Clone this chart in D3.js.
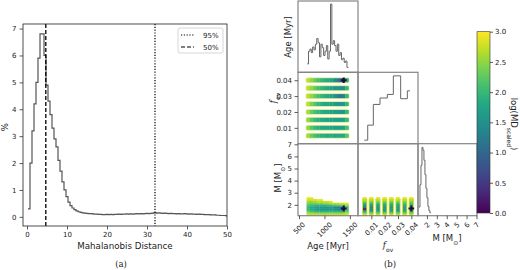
<!DOCTYPE html>
<html>
<head>
<meta charset="utf-8">
<style>
    body { margin: 0; background: #fff; }
    text { font-family: "DejaVu Sans", sans-serif; fill: #222; }
    .axis path { display: none; }
    .axis line { stroke: #333; stroke-width: 0.8; }
    .axis text { font-size: 7px; fill: #222; }
</style>
</head>
<body>
<svg id="container" width="520" height="270"></svg>
<script src="https://cdn.jsdelivr.net/npm/d3@7"></script>
<script>
// ---------------- data, panel (a) ----------------
let mdBinStart = 0.25
let mdBinWidth = 0.5
let mdPercent = [
    0.3, 2.0, 3.2, 4.2, 5.0, 5.9, 6.8, 6.8, 6.0, 4.9,
    4.3, 3.8, 3.3, 2.9, 2.6, 2.1, 1.7, 1.3, 1.0, 0.75,
    0.55, 0.42, 0.33, 0.27, 0.22, 0.19, 0.17, 0.15, 0.14, 0.13,
    0.12, 0.12, 0.11, 0.1, 0.1, 0.09, 0.09, 0.08, 0.08, 0.09,
    0.08, 0.09, 0.08, 0.09, 0.09, 0.1, 0.09, 0.1, 0.1, 0.11,
    0.1, 0.11, 0.1, 0.11, 0.12, 0.11, 0.12, 0.11, 0.12, 0.13,
    0.12, 0.13, 0.14, 0.16, 0.14, 0.15, 0.14, 0.13, 0.14, 0.13,
    0.12, 0.13, 0.12, 0.12, 0.11, 0.12, 0.11, 0.11, 0.12, 0.11,
    0.1, 0.11, 0.1, 0.1, 0.09, 0.1, 0.09, 0.09, 0.08, 0.08,
    0.08, 0.07, 0.07, 0.07, 0.06, 0.06, 0.05, 0.05, 0.05, 0.04
]
let md50 = 4.7
let md95 = 32
let mdTicks = [0, 10, 20, 30, 40, 50]
let pctTicks = [0, 1, 2, 3, 4, 5, 6, 7]

// ---------------- data, panel (b) ----------------
let ages = [680, 745, 810, 870, 935, 1000, 1060, 1125, 1190, 1250, 1315, 1375, 1440]
let ageStep = 63
let fovs = [0.04, 0.035, 0.03, 0.025, 0.02, 0.015, 0.01, 0.005]
let masses = [2.55, 2.4, 2.25, 2.1, 1.95, 1.8, 1.65, 1.5, 1.35, 1.2]
let massStep = 0.15

// log(MD_scaled), rows = fovs, columns = ages
let mdAgeFov = [
    [2.7, 2.5, 2.3, 2.1, 2.0, 1.9, 1.8, 1.7, 1.5, 1.3, 1.0, 0.3, 1.9],
    [2.7, 2.5, 2.3, 2.1, 2.0, 1.9, 1.8, 1.7, 1.6, 1.6, 1.5, 1.5, 2.0],
    [2.7, 2.5, 2.3, 2.1, 2.0, 1.9, 1.8, 1.7, 1.6, 1.4, 1.2, 1.3, 2.0],
    [2.7, 2.4, 2.2, 2.0, 1.9, 1.8, 1.8, 1.7, 1.7, 1.6, 1.6, 1.6, 2.0],
    [2.6, 2.3, 2.1, 2.0, 1.9, 1.8, 1.8, 1.7, 1.7, 1.7, 1.6, 1.6, 2.0],
    [2.5, 2.2, 2.0, 1.9, 1.8, 1.8, 1.7, 1.7, 1.7, 1.7, 1.7, 1.7, 2.0],
    [2.5, 2.2, 2.0, 1.9, 1.8, 1.8, 1.8, 1.7, 1.7, 1.7, 1.7, 1.7, 2.1],
    [2.6, 2.3, 2.1, 2.0, 1.9, 1.9, 1.8, 1.8, 1.8, 1.8, 1.8, 1.8, 2.2]
]
// rows = masses, columns = ages (null = no model)
let mdAgeMass = [
    [2.9, 2.9, null, null, null, null, null, null, null, null, null, null, null],
    [2.8, 2.8, 2.8, 2.9, 2.9, null, null, null, null, null, null, null, null],
    [2.6, 2.5, 2.6, 2.7, 2.7, 2.8, 2.8, 2.9, null, null, null, null, null],
    [2.4, 2.3, 2.3, 2.4, 2.4, 2.5, 2.5, 2.6, 2.7, 2.7, 2.8, 2.8, 2.9],
    [2.1, 2.0, 1.9, 1.9, 1.9, 1.9, 2.0, 2.0, 2.1, 2.2, 2.3, 2.3, 2.5],
    [2.0, 1.8, 1.7, 1.6, 1.6, 1.6, 1.6, 1.6, 1.5, 1.4, 1.3, 1.1, 2.0],
    [2.0, 1.8, 1.7, 1.6, 1.6, 1.6, 1.6, 1.5, 1.5, 1.4, 1.2, 0.3, 2.0],
    [2.2, 2.0, 1.9, 1.8, 1.8, 1.8, 1.8, 1.8, 1.8, 1.8, 1.8, 1.6, 2.2],
    [2.5, 2.4, 2.3, 2.3, 2.3, 2.3, 2.3, 2.3, 2.3, 2.3, 2.3, 2.3, 2.5],
    [2.8, 2.7, 2.7, 2.7, 2.7, 2.7, 2.7, 2.7, 2.7, 2.7, 2.7, 2.7, 2.8]
]
// rows = masses, columns = fovs (same order as fovs)
let mdFovMass = [
    [2.9, 2.9, 2.9, 2.9, 2.9, 2.9, 2.9, 2.9],
    [2.7, 2.7, 2.7, 2.7, 2.7, 2.7, 2.7, 2.7],
    [2.4, 2.4, 2.4, 2.4, 2.4, 2.4, 2.4, 2.4],
    [1.9, 2.0, 2.0, 2.0, 2.0, 2.0, 2.1, 2.1],
    [1.5, 1.6, 1.6, 1.7, 1.7, 1.7, 1.8, 1.8],
    [1.2, 1.4, 1.5, 1.5, 1.6, 1.6, 1.7, 1.7],
    [0.3, 1.4, 1.5, 1.5, 1.6, 1.6, 1.7, 1.7],
    [1.5, 1.6, 1.7, 1.7, 1.7, 1.7, 1.8, 1.8],
    [2.2, 2.2, 2.2, 2.2, 2.2, 2.2, 2.2, 2.2],
    [2.7, 2.7, 2.7, 2.7, 2.7, 2.7, 2.7, 2.7]
]
let best = { age: 1380, fov: 0.04, mass: 1.7 }

// 1D marginals (relative heights)
let ageHistStart = 660
let ageHistWidth = 27
let ageHist = [0.12, 0.30, 0.33, 0.28, 0.36, 0.32, 0.40, 0.48, 0.42, 0.22,
               0.40, 0.35, 0.24, 0.30, 0.38, 0.19, 0.30, 0.97, 0.40, 0.45,
               0.38, 0.30, 0.40, 0.24, 0.28, 0.18, 0.20, 0.14, 0.16, 0.07]
let fovHistEdges = [0.0047, 0.0073, 0.0115, 0.0165, 0.022, 0.0265, 0.032, 0.037, 0.039]
let fovHist = [0.05, 0.26, 0.55, 0.64, 0.69, 0.95, 0.63, 0.74]
let massHistStart = 1.2
let massHistWidth = 0.1
let massHist = [0.12, 0.43, 0.70, 0.95, 0.91, 0.77, 0.57, 0.38, 0.25, 0.13, 0.07, 0.04]

let ageTicks = [500, 1000, 1500]
let fovTicks = [0.01, 0.02, 0.03, 0.04]
let massTicks = [2, 3, 4, 5, 6, 7]
let cbarTicks = [0, 0.5, 1, 1.5, 2, 2.5, 3]

let svg = d3.select("#container")

// ================= panel (a) =================
let xA = d3.scaleLinear().domain([-1, 50]).range([23, 227])
let yA = d3.scaleLinear().domain([-0.34, 7.17]).range([226, 24])

svg.append("clipPath").attr("id", "clipA")
    .append("rect").attr("x", 23).attr("y", 24).attr("width", 204).attr("height", 202)

let histPts = mdPercent.map((v, i) => [mdBinStart + i * mdBinWidth, v])
histPts.push([mdBinStart + mdPercent.length * mdBinWidth, mdPercent[mdPercent.length - 1]])
let stepLine = d3.line().x(d => xA(d[0])).y(d => yA(d[1])).curve(d3.curveStepAfter)

svg.append("path")
    .attr("d", stepLine(histPts))
    .attr("fill", "none")
    .attr("stroke", "#555")
    .attr("stroke-width", 1.2)
    .attr("clip-path", "url(#clipA)")

// percentile lines
svg.append("line")
    .attr("x1", xA(md95)).attr("x2", xA(md95)).attr("y1", 24).attr("y2", 226)
    .attr("stroke", "#000").attr("stroke-width", 1.2).attr("stroke-dasharray", "1.2,1.6")
svg.append("line")
    .attr("x1", xA(md50)).attr("x2", xA(md50)).attr("y1", 24).attr("y2", 226)
    .attr("stroke", "#000").attr("stroke-width", 1.3).attr("stroke-dasharray", "4,2")

svg.append("rect")
    .attr("x", 23).attr("y", 24).attr("width", 204).attr("height", 202)
    .attr("fill", "none").attr("stroke", "#222").attr("stroke-width", 0.8)

svg.append("g").attr("class", "axis")
    .attr("transform", "translate(0,226)")
    .call(d3.axisBottom(xA).tickValues(mdTicks).tickSize(3.5).tickPadding(2.5))
svg.append("g").attr("class", "axis")
    .attr("transform", "translate(23,0)")
    .call(d3.axisLeft(yA).tickValues(pctTicks).tickSize(3.5).tickPadding(3))

svg.append("text").attr("x", 125).attr("y", 249).attr("text-anchor", "middle")
    .attr("font-size", 8.7).text("Mahalanobis Distance")
svg.append("text").attr("transform", "translate(8,127) rotate(-90)").attr("text-anchor", "middle")
    .attr("font-size", 8.7).text("%")
svg.append("text").attr("x", 121).attr("y", 267).attr("text-anchor", "middle")
    .attr("font-size", 8.5).style("font-family", "'DejaVu Serif', serif").text("(a)")

// legend
let leg = svg.append("g").attr("transform", "translate(178,28)")
leg.append("rect").attr("width", 45).attr("height", 25).attr("rx", 2)
    .attr("fill", "#fff").attr("fill-opacity", 0.8).attr("stroke", "#ccc").attr("stroke-width", 0.8)
let legItems = [{ label: "95%", dash: "1.2,1.6" }, { label: "50%", dash: "4,2" }]
legItems.forEach((d, i) => {
    let y = 7 + i * 12
    leg.append("line").attr("x1", 3).attr("x2", 16).attr("y1", y).attr("y2", y)
        .attr("stroke", "#000").attr("stroke-width", 1.2).attr("stroke-dasharray", d.dash)
    leg.append("text").attr("x", 25).attr("y", y + 2.5).attr("font-size", 7).text(d.label)
})

// ================= panel (b) =================
let colX = [298, 358, 418, 477]
let rowY = [1, 72.3, 143.7, 215.7]

let ageX = d3.scaleLinear().domain([480, 1660]).range([colX[0], colX[1]])
let fovX = d3.scaleLinear().domain([0, 0.045]).range([colX[1], colX[2]])
let fovY = d3.scaleLinear().domain([0, 0.045]).range([rowY[2], rowY[1]])
let massX = d3.scaleLinear().domain([1.1, 7.05]).range([colX[2], colX[3]])
let massY = d3.scaleLinear().domain([1.1, 7.05]).range([rowY[3], rowY[2]])
let color = d3.scaleSequential(d3.interpolateViridis).domain([0, 3])

let corner = svg.append("g")

// Age - f_ov scatter strips
let gAF = corner.append("g")
fovs.forEach((f, i) => {
    // light outer halo like the outer (high MD) models
    gAF.append("rect")
        .attr("x", ageX(ages[0] - ageStep / 2) - 1).attr("y", fovY(f) - 2.8)
        .attr("width", ageX(ages[ages.length - 1] + ageStep / 2) - ageX(ages[0] - ageStep / 2) + 2)
        .attr("height", 5.6).attr("rx", 2.5)
        .attr("fill", color(2.7)).attr("opacity", 0.6)
    ages.forEach((a, j) => {
        gAF.append("rect")
            .attr("x", ageX(a - ageStep / 2)).attr("y", fovY(f) - 2)
            .attr("width", ageX(a + ageStep / 2) - ageX(a - ageStep / 2) + 0.3)
            .attr("height", 4)
            .attr("fill", color(mdAgeFov[i][j]))
    })
})

// Age - M scatter
let gAM = corner.append("g")
masses.forEach((m, i) => {
    ages.forEach((a, j) => {
        let v = mdAgeMass[i][j]
        if (v == null) return
        gAM.append("rect")
            .attr("x", ageX(a - ageStep / 2)).attr("y", massY(m + massStep / 2))
            .attr("width", ageX(a + ageStep / 2) - ageX(a - ageStep / 2) + 0.3)
            .attr("height", massY(m - massStep / 2) - massY(m + massStep / 2) + 0.3)
            .attr("fill", color(v))
    })
})

// f_ov - M blobs
let gFM = corner.append("g")
fovs.forEach((f, j) => {
    let col = masses.map((m, i) => ({ m: m, v: mdFovMass[i][fovs.length - 1 - j] }))
    gFM.append("rect")
        .attr("x", fovX(f) - 2.6).attr("y", massY(masses[0] + massStep / 2))
        .attr("width", 5.2).attr("height", massY(masses[masses.length - 1] - massStep / 2) - massY(masses[0] + massStep / 2))
        .attr("rx", 2).attr("fill", color(2.8))
    col.forEach(d => {
        gFM.append("rect")
            .attr("x", fovX(f) - 1.7).attr("y", massY(d.m + massStep / 2))
            .attr("width", 3.4)
            .attr("height", massY(d.m - massStep / 2) - massY(d.m + massStep / 2) + 0.3)
            .attr("fill", color(d.v))
    })
})

// best fit markers
let cross = d3.symbol(d3.symbolCross).size(18)
let bestPts = [[ageX(best.age), fovY(best.fov)], [ageX(best.age), massY(best.mass)], [fovX(best.fov), massY(best.mass)]]
bestPts.forEach(p => {
    corner.append("path").attr("d", cross()).attr("transform", `translate(${p[0]},${p[1]})`)
        .attr("fill", "#1e0b3d")
})

// 1D histograms
function stepPath(points, xs, ys) {
    return d3.line().x(d => xs(d[0])).y(d => ys(d[1])).curve(d3.curveStepAfter)(points)
}
let ageHY = d3.scaleLinear().domain([0, 1]).range([rowY[1], rowY[0] + 1])
let agePts = ageHist.map((v, i) => [ageHistStart + i * ageHistWidth, v])
agePts.push([ageHistStart + ageHist.length * ageHistWidth, ageHist[ageHist.length - 1]])
corner.append("path").attr("d", stepPath(agePts, ageX, ageHY))
    .attr("fill", "none").attr("stroke", "#666").attr("stroke-width", 1)

let fovHY = d3.scaleLinear().domain([0, 1]).range([rowY[2], rowY[1]])
let fovPts = fovHist.map((v, i) => [fovHistEdges[i], v])
fovPts.push([fovHistEdges[fovHistEdges.length - 1], fovHist[fovHist.length - 1]])
corner.append("path").attr("d", stepPath(fovPts, fovX, fovHY))
    .attr("fill", "none").attr("stroke", "#666").attr("stroke-width", 1)

let massHY = d3.scaleLinear().domain([0, 1]).range([rowY[3], rowY[2]])
let massPts = massHist.map((v, i) => [massHistStart + i * massHistWidth, v])
massPts.push([massHistStart + massHist.length * massHistWidth, massHist[massHist.length - 1]])
corner.append("path").attr("d", stepPath(massPts, massX, massHY))
    .attr("fill", "none").attr("stroke", "#666").attr("stroke-width", 1)

// panel frames (lower triangle)
let cells = [[0, 0], [1, 0], [1, 1], [2, 0], [2, 1], [2, 2]]
cells.forEach(c => {
    corner.append("rect")
        .attr("x", colX[c[1]]).attr("y", rowY[c[0]])
        .attr("width", colX[c[1] + 1] - colX[c[1]]).attr("height", rowY[c[0] + 1] - rowY[c[0]])
        .attr("fill", "none").attr("stroke", "#858585").attr("stroke-width", 1.2)
})

// rotated bottom tick labels
function bottomAxis(scale, values, fmt) {
    let g = corner.append("g").attr("class", "axis").attr("transform", `translate(0,${rowY[3]})`)
        .call(d3.axisBottom(scale).tickValues(values).tickSize(3.5).tickFormat(fmt))
    g.selectAll(".tick text").each(function () {
        let t = d3.select(this)
        t.attr("y", null).attr("dy", null).attr("text-anchor", "middle").attr("dominant-baseline", "central")
        let w = this.getComputedTextLength()
        let off = (w + 7) / (2 * Math.SQRT2)
        t.attr("transform", `translate(0,${5.5 + off}) rotate(-45)`)
    })
}
bottomAxis(ageX, ageTicks, d3.format("d"))
bottomAxis(fovX, fovTicks, d3.format(".2f"))
bottomAxis(massX, massTicks, d3.format("d"))

corner.append("g").attr("class", "axis").attr("transform", `translate(${colX[0]},0)`)
    .call(d3.axisLeft(fovY).tickValues(fovTicks).tickSize(3.5).tickPadding(2.5).tickFormat(d3.format(".2f")))
corner.append("g").attr("class", "axis").attr("transform", `translate(${colX[0]},0)`)
    .call(d3.axisLeft(massY).tickValues(massTicks).tickSize(3.5).tickPadding(2.5).tickFormat(d3.format("d")))

// axis labels
function label(x, y, rot, parts) {
    let t = corner.append("text").attr("transform", `translate(${x},${y}) rotate(${rot})`)
        .attr("text-anchor", "middle").attr("font-size", 8.5)
    parts.forEach(p => {
        let s = t.append("tspan").text(p.t)
        if (p.sub) s.attr("font-size", 6).attr("baseline-shift", "sub")
        if (p.it) s.style("font-style", "italic").style("font-family", "'DejaVu Serif', serif")
    })
}
label(291, 37, -90, [{ t: "Age [Myr]" }])
label(276, 98, -90, [{ t: "f", it: true }, { t: "ov", sub: true }])
label(281, 178, -90, [{ t: "M [M" }, { t: "⊙", sub: true }, { t: "]" }])
label(328, 249, 0, [{ t: "Age [Myr]" }])
label(388, 248, 0, [{ t: "f", it: true }, { t: "ov", sub: true }])
label(447, 241, 0, [{ t: "M [M" }, { t: "⊙", sub: true }, { t: "]" }])

svg.append("text").attr("x", 390).attr("y", 267).attr("text-anchor", "middle")
    .attr("font-size", 8.5).style("font-family", "'DejaVu Serif', serif").text("(b)")

// colorbar
let cbY = d3.scaleLinear().domain([0, 3]).range([213, 31.7])
let grad = svg.append("defs").append("linearGradient").attr("id", "viridis")
    .attr("x1", 0).attr("y1", 1).attr("x2", 0).attr("y2", 0)
d3.range(0, 1.001, 0.1).forEach(t => {
    grad.append("stop").attr("offset", t).attr("stop-color", d3.interpolateViridis(t))
})
svg.append("rect").attr("x", 477).attr("y", cbY(3)).attr("width", 13).attr("height", cbY(0) - cbY(3))
    .attr("fill", "url(#viridis)").attr("stroke", "#333").attr("stroke-width", 0.6)
svg.append("g").attr("class", "axis").attr("transform", "translate(490,0)")
    .call(d3.axisRight(cbY).tickValues(cbarTicks).tickSize(3).tickPadding(2).tickFormat(d3.format(".1f")))
let cbl = svg.append("text").attr("transform", "translate(511,124) rotate(90)")
    .attr("text-anchor", "middle").attr("font-size", 8.5)
cbl.append("tspan").text("log(MD")
cbl.append("tspan").text("scaled").attr("font-size", 6).attr("baseline-shift", "sub")
cbl.append("tspan").text(")")
</script>
</body>
</html>
